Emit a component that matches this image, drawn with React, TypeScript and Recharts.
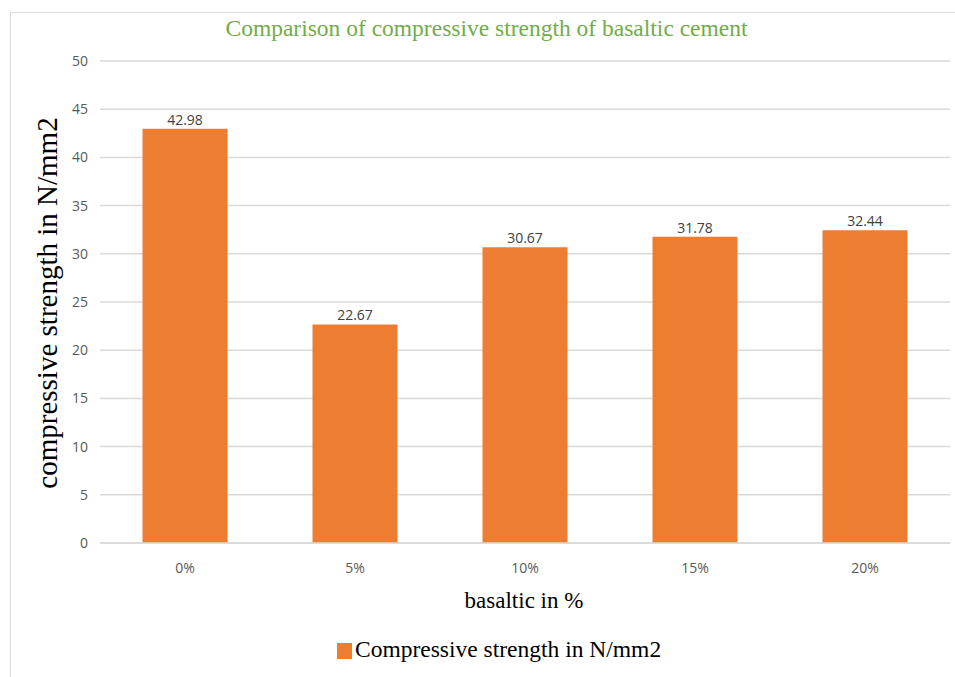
import React from 'react';
import { Bar, BarChart, CartesianGrid, LabelList, XAxis, YAxis } from 'recharts';

const CATEGORIES = ['0%', '5%', '10%', '15%', '20%'];
const STRENGTH = [42.98, 22.67, 30.67, 31.78, 32.44];
const Y_TICKS = [0, 5, 10, 15, 20, 25, 30, 35, 40, 45, 50];

const ORANGE = '#ED7D31';
const SERIF = '"Liberation Serif", "Times New Roman", serif';
const SANS = '"Open Sans", "DejaVu Sans", sans-serif';

const rows = CATEGORIES.map((c, i) => ({ name: c, value: STRENGTH[i] }));

export default function App() {
  return (
    <div style={{ position: 'absolute', left: 0, top: 0, width: 955, height: 677, background: '#fff', overflow: 'hidden' }}>
      {/* frame */}
      <div style={{ position: 'absolute', left: 10, top: 12, width: 960, height: 700, borderTop: '1.5px solid #dcdcdc', borderLeft: '1.5px solid #dcdcdc' }} />
      <div style={{ position: 'absolute', left: 0, top: 13, width: 973, textAlign: 'center', fontFamily: SERIF, fontSize: 23.5, lineHeight: '30px', color: '#70AD47' }}>
        Comparison of compressive strength of basaltic cement
      </div>
      <div
        style={{
          position: 'absolute', left: 47, top: 303, transform: 'translate(-50%, -50%) rotate(-90deg)',
          whiteSpace: 'nowrap', fontFamily: SERIF, fontSize: 29, lineHeight: '32px', color: '#000',
        }}
      >
        compressive strength in N/mm2
      </div>
      <BarChart
        width={955}
        height={677}
        data={rows}
        margin={{ top: 61, right: 5, left: 60, bottom: 104 }}
        barCategoryGap="25%"
        style={{ position: 'absolute', left: 0, top: 0 }}
      >
        <CartesianGrid vertical={false} stroke="#d9d9d9" strokeWidth={1.5} />
        <XAxis
          dataKey="name"
          height={30}
          axisLine={{ stroke: '#d9d9d9', strokeWidth: 1.5 }}
          tickLine={false}
          tickSize={0}
          tickMargin={20}
          tick={{ fill: '#595959', fontSize: 14, fontFamily: SANS }}
        />
        <YAxis
          width={40}
          domain={[0, 50]}
          ticks={Y_TICKS}
          axisLine={false}
          tickLine={false}
          tickSize={0}
          tickMargin={12}
          tick={{ fill: '#595959', fontSize: 14, fontFamily: SANS }}
        />
        <Bar dataKey="value" fill={ORANGE} isAnimationActive={false}>
          <LabelList dataKey="value" position="top" offset={4} fill="#404040" fontSize={14} fontFamily={SANS} />
        </Bar>
      </BarChart>
      <div style={{ position: 'absolute', left: 0, top: 587, width: 1048, textAlign: 'center', fontFamily: SERIF, fontSize: 23, lineHeight: '28px', color: '#000' }}>
        basaltic in %
      </div>
      <div style={{ position: 'absolute', left: 337, top: 634, height: 30, display: 'flex', alignItems: 'center', fontFamily: SERIF, fontSize: 23.5, color: '#000', whiteSpace: 'nowrap' }}>
        <span style={{ display: 'inline-block', width: 15, height: 16, background: ORANGE, marginRight: 3, marginTop: 4 }} />
        Compressive strength in N/mm2
      </div>
    </div>
  );
}
